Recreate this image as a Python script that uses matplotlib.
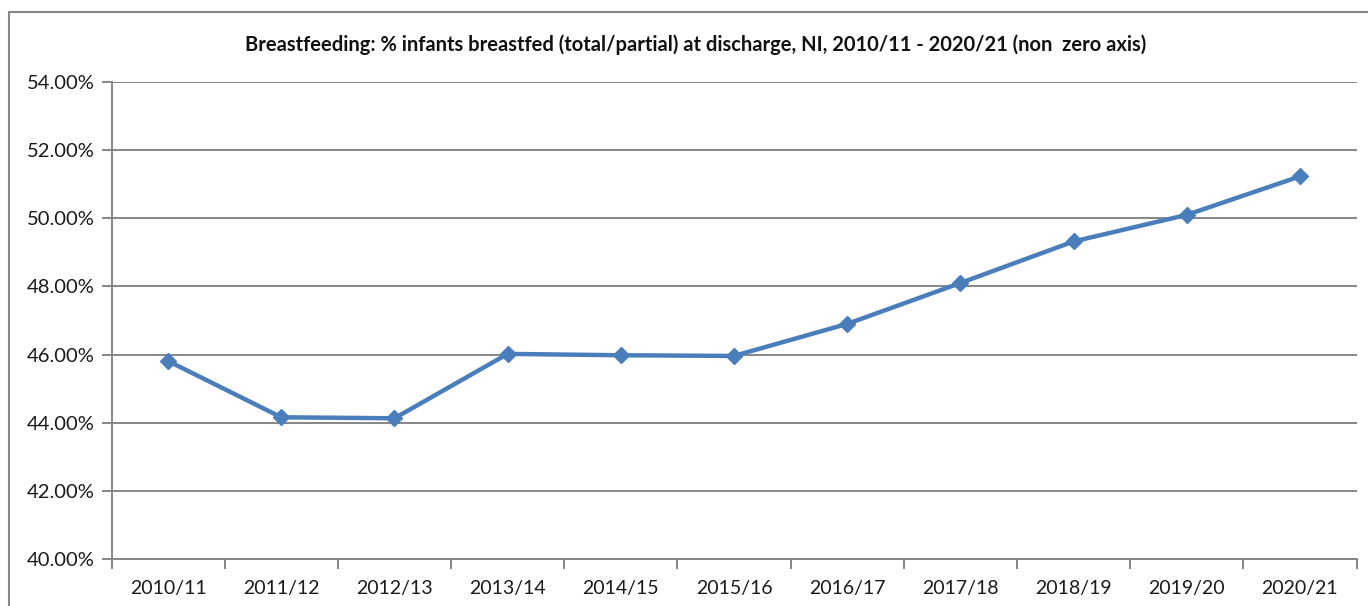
import matplotlib
matplotlib.use("Agg")
import matplotlib.pyplot as plt
from matplotlib.patches import Rectangle
from matplotlib.ticker import FixedLocator, FuncFormatter

categories = ["2010/11", "2011/12", "2012/13", "2013/14", "2014/15", "2015/16",
              "2016/17", "2017/18", "2018/19", "2019/20", "2020/21"]
values = [45.81, 44.16, 44.13, 46.02, 45.98, 45.96, 46.90, 48.10, 49.32, 50.10, 51.23]
title = "Breastfeeding: % infants breastfed (total/partial) at discharge, NI, 2010/11 - 2020/21 (non  zero axis)"

plt.rcParams['font.family'] = ['Lato', 'DejaVu Sans']

W, H = 1368, 606
fig = plt.figure(figsize=(W / 100, H / 100), dpi=100)
ax = fig.add_axes([111.5 / W, 1 - 559 / H, (1356.5 - 111.5) / W, (559 - 82) / H])

x = list(range(len(categories)))
ax.plot(x, values, color="#4A7EBB", lw=3.2, marker="D", markersize=8.5,
        markerfacecolor="#4A7EBB", markeredgecolor="#4A7EBB", zorder=3, clip_on=False)

ax.set_xlim(-0.5, len(categories) - 0.5)
ax.set_ylim(40, 54)
ax.set_yticks([40, 42, 44, 46, 48, 50, 52, 54])
ax.yaxis.set_major_formatter(FuncFormatter(lambda v, p: f"{v:.2f}%"))
ax.grid(axis="y", color="#868686", lw=1.4)
ax.set_axisbelow(True)

ax.xaxis.set_major_locator(FixedLocator([i - 0.5 for i in range(len(categories) + 1)]))
ax.xaxis.set_minor_locator(FixedLocator(x))
ax.set_xticklabels([])
ax.set_xticklabels(categories, minor=True)
ax.tick_params(axis="x", which="major", length=7, width=1.4, color="#868686", direction="out")
ax.tick_params(axis="x", which="minor", length=0, pad=15, labelsize=14, labelcolor="#1a1a1a")
ax.tick_params(axis="y", length=7, width=1.4, color="#868686", pad=5, labelsize=14.5, labelcolor="#1a1a1a")

for s in ["top", "right"]:
    ax.spines[s].set_visible(False)
for s in ["left", "bottom"]:
    ax.spines[s].set_color("#868686")
    ax.spines[s].set_linewidth(1.4)

fig.text(696 / W, 1 - 45 / H, title, ha="center", va="center", fontsize=14.5, fontweight="bold", color="#111111")

rect = Rectangle((9 / W, -0.1), 1.2, 1 - 12 / H + 0.1, transform=fig.transFigure,
                 fill=False, edgecolor="#868686", lw=1.5, clip_on=False)
fig.patches.append(rect)

fig.savefig("out.png", dpi=100)
